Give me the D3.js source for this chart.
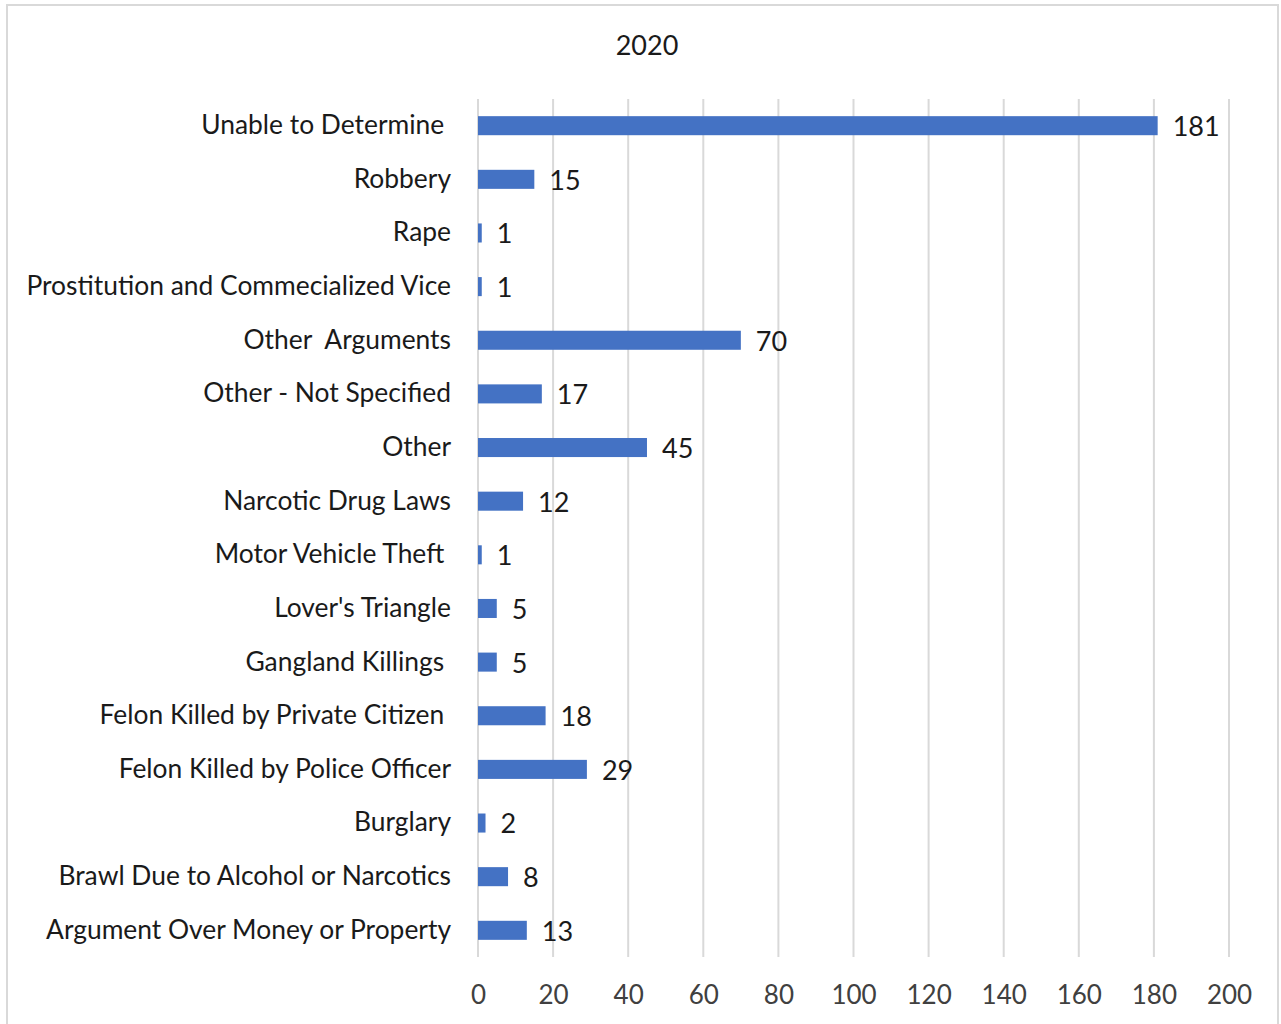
<!DOCTYPE html>
<html>
<head>
<meta charset="utf-8">
<script src="https://cdn.jsdelivr.net/npm/d3@7"></script>
<style>
  body { margin: 0; background: #fff; }
  svg text { font-family: Lato, "Open Sans", sans-serif; fill: #1a1a1a; }
  .y.axis text { white-space: pre; }
  .domain { display: none; }
</style>
</head>
<body>
<div id="chart"></div>
<script>
// chart data, top row first
var categories = [
  "Unable to Determine ", "Robbery", "Rape", "Prostitution and Commecialized Vice",
  "Other  Arguments", "Other - Not Specified", "Other", "Narcotic Drug Laws",
  "Motor Vehicle Theft ", "Lover's Triangle", "Gangland Killings ",
  "Felon Killed by Private Citizen ", "Felon Killed by Police Officer", "Burglary",
  "Brawl Due to Alcohol or Narcotics", "Argument Over Money or Property"
];
var counts = [181, 15, 1, 1, 70, 17, 45, 12, 1, 5, 5, 18, 29, 2, 8, 13];
var xTicks = [0, 20, 40, 60, 80, 100, 120, 140, 160, 180, 200];
var title = "2020";

var W = 1281, H = 1024;
var margin = {top: 99, right: 52, bottom: 67, left: 478},
  width = W - margin.left - margin.right,
  height = H - margin.top - margin.bottom;

var data = categories.map(function(c, i) { return {name: c, n: counts[i]}; });

var x = d3.scaleLinear().domain([0, 200]).range([0, width]);
var y = d3.scaleBand().domain(categories).range([0, height]).paddingInner(0.645).paddingOuter(0.32);

var root = d3.select("#chart").append("svg")
  .attr("width", W)
  .attr("height", H);

// outer chart border
root.append("rect")
  .attr("x", 7).attr("y", 5)
  .attr("width", 1271).attr("height", 1030)
  .attr("fill", "#fff")
  .attr("stroke", "#d9d9d9")
  .attr("stroke-width", 2);

root.append("text")
  .attr("x", 647).attr("y", 46)
  .attr("dy", "0.35em")
  .attr("text-anchor", "middle")
  .style("font-size", "27px")
  .text(title);

var svg = root.append("g")
  .attr("transform", "translate(" + margin.left + "," + margin.top + ")");

// vertical gridlines
svg.append("g").selectAll("line")
  .data(xTicks)
  .enter().append("line")
  .attr("x1", function(d) { return x(d); })
  .attr("x2", function(d) { return x(d); })
  .attr("y1", 0)
  .attr("y2", height)
  .attr("stroke", "#d9d9d9")
  .attr("stroke-width", 2);

var xAxis = d3.axisBottom(x).tickValues(xTicks).tickSize(0).tickPadding(29);
svg.append("g")
  .attr("class", "x axis")
  .attr("transform", "translate(0," + height + ")")
  .call(xAxis)
  .selectAll("text")
  .style("font-size", "26px")
  .style("fill", "#404040");

var yAxis = d3.axisLeft(y).tickSize(0).tickPadding(27);
svg.append("g")
  .attr("class", "y axis")
  .call(yAxis)
  .selectAll("text")
  .style("font-size", "26.4px");

svg.selectAll(".bar")
  .data(data)
  .enter().append("rect")
  .attr("class", "bar")
  .attr("x", x(0))
  .attr("y", function(d) { return y(d.name); })
  .attr("width", function(d) { return Math.max(x(d.n) - x(0), 3); })
  .attr("height", y.bandwidth())
  .attr("fill", "#4472c4");

svg.selectAll(".val")
  .data(data)
  .enter().append("text")
  .attr("class", "val")
  .attr("x", function(d) { return x(d.n) + 15; })
  .attr("y", function(d) { return y(d.name) + y.bandwidth() / 2 + 1; })
  .attr("dy", "0.35em")
  .style("font-size", "27px")
  .text(function(d) { return d.n; });
</script>
</body>
</html>
